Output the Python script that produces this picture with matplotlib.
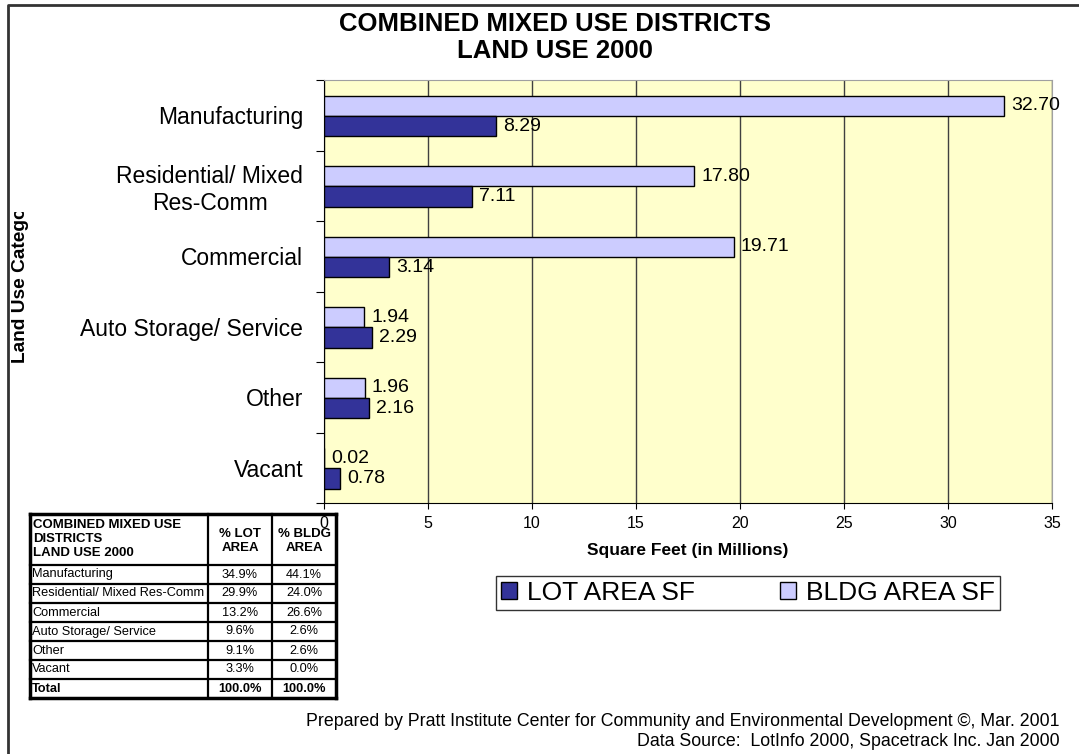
import matplotlib
matplotlib.use("Agg")
import matplotlib.pyplot as plt
import numpy as np
from matplotlib.patches import Patch
from matplotlib.transforms import Bbox, TransformedBbox

categories = ["Manufacturing", "Residential/ Mixed\nRes-Comm", "Commercial",
              "Auto Storage/ Service", "Other", "Vacant"]
lot_area = [8.29, 7.11, 3.14, 2.29, 2.16, 0.78]
bldg_area = [32.70, 17.80, 19.71, 1.94, 1.96, 0.02]

table_rows = ["Manufacturing", "Residential/ Mixed Res-Comm", "Commercial",
              "Auto Storage/ Service", "Other", "Vacant", "Total"]
pct_lot = ["34.9%", "29.9%", "13.2%", "9.6%", "9.1%", "3.3%", "100.0%"]
pct_bldg = ["44.1%", "24.0%", "26.6%", "2.6%", "2.6%", "0.0%", "100.0%"]

lot_col, bldg_col, plot_bg = "#333399", "#CCCCFF", "#FFFFCC"
plt.rcParams["font.family"] = ["Liberation Sans", "DejaVu Sans"]

W, H = 1079, 754
fig = plt.figure(figsize=(W / 100, H / 100), dpi=100)
ax = fig.add_axes([324 / W, 1 - 503 / H, 728 / W, 423 / H])
ax.set_facecolor(plot_bg)

y = np.arange(len(categories))
ax.barh(y - 0.135, bldg_area, height=0.29, color=bldg_col, edgecolor="black",
        linewidth=1, zorder=3)
ax.barh(y + 0.155, lot_area, height=0.29, color=lot_col, edgecolor="black",
        linewidth=1, zorder=3)
for i in range(len(categories)):
    ax.annotate(f"{bldg_area[i]:.2f}", (bldg_area[i], y[i] - 0.135),
                xytext=(5, 0), textcoords="offset points", va="center",
                fontsize=14, zorder=4)
    ax.annotate(f"{lot_area[i]:.2f}", (lot_area[i], y[i] + 0.155),
                xytext=(5, 0), textcoords="offset points", va="center",
                fontsize=14, zorder=4)

ax.set_xlim(0, 35)
ax.set_ylim(len(categories) - 0.5, -0.5)
ax.set_xticks(np.arange(0, 36, 5))
ax.tick_params(axis="x", direction="out", length=4, labelsize=11.5, pad=5)
ax.xaxis.grid(True, color="#404040", lw=1, zorder=1)
ax.set_axisbelow(True)
ax.set_yticks(np.arange(-0.5, len(categories), 1))
ax.set_yticklabels([])
ax.tick_params(axis="y", which="major", direction="out", length=6)
ax.set_yticks(y, minor=True)
ax.set_yticklabels(categories, minor=True, fontsize=16.5)
ax.tick_params(axis="y", which="minor", length=0, pad=15)
for lab in ax.get_yticklabels(minor=True):
    lab.set_multialignment("center")
for s in ("top", "right"):
    ax.spines[s].set_color("#a0a0a0")
ax.set_xlabel("Square Feet (in Millions)", fontsize=12.5, fontweight="bold",
              labelpad=9)

fig.text(555 / W, 1 - 12 / H, "COMBINED MIXED USE DISTRICTS\nLAND USE 2000",
         ha="center", va="top", fontsize=18.5, fontweight="bold",
         linespacing=1.15)

ylab = fig.text(21 / W, 1 - 363 / H, "Land Use Category", rotation=90,
                ha="center", va="bottom", fontsize=13.8, fontweight="bold")
ylab.set_clip_box(TransformedBbox(Bbox([[0, 1 - 372 / H], [1, 1 - 212 / H]]),
                                  fig.transFigure))
ylab.set_clip_on(True)

handles = [Patch(facecolor=lot_col, edgecolor="black"),
           Patch(facecolor=bldg_col, edgecolor="black")]
leg = fig.legend(handles, ["LOT AREA SF", "BLDG AREA SF"], ncol=2,
                 loc="center", bbox_to_anchor=(748 / W, 1 - 593 / H),
                 fontsize=19, frameon=True, fancybox=False, edgecolor="black",
                 handlelength=0.6, handleheight=0.6, handletextpad=0.4,
                 columnspacing=3.2, borderpad=0.2)
leg.get_frame().set_linewidth(1)

fig.text(1060 / W, 1 - 721 / H,
         "Prepared by Pratt Institute Center for Community and Environmental Development \u00a9, Mar. 2001",
         ha="right", va="center", fontsize=12.8)
fig.text(1060 / W, 1 - 741 / H,
         "Data Source:  LotInfo 2000, Spacetrack Inc. Jan 2000",
         ha="right", va="center", fontsize=12.8)

# overlay in pixel coordinates for frame and summary table
ov = fig.add_axes([0, 0, 1, 1], facecolor="none")
ov.set_xlim(0, W)
ov.set_ylim(H, 0)
ov.axis("off")
ov.plot([8, 8, W], [H, 5, 5], color="#333333", lw=2)

cols = [30, 208, 272, 336]
rows = [514, 565] + [565 + 19 * (k + 1) for k in range(len(table_rows))]
for yy in rows:
    ov.plot([cols[0], cols[-1]], [yy, yy], color="black",
            lw=2.5 if yy in (rows[0], rows[-1]) else 1.6)
for xx in cols:
    ov.plot([xx, xx], [rows[0], rows[-1]], color="black",
            lw=2.5 if xx in (cols[0], cols[-1]) else 1.6)
ov.text(33, 519, "COMBINED MIXED USE\nDISTRICTS\nLAND USE 2000", ha="left",
        va="top", fontsize=9.5, fontweight="bold", linespacing=1.2)
ov.text((cols[1] + cols[2]) / 2, 541, "% LOT\nAREA", ha="center", va="center",
        fontsize=9.5, fontweight="bold", linespacing=1.25)
ov.text((cols[2] + cols[3]) / 2, 541, "% BLDG\nAREA", ha="center", va="center",
        fontsize=9.5, fontweight="bold", linespacing=1.25)
for k, name in enumerate(table_rows):
    yc = (rows[k + 1] + rows[k + 2]) / 2
    w = "bold" if name == "Total" else "normal"
    ov.text(32, yc, name, ha="left", va="center", fontsize=9.2, fontweight=w)
    ov.text((cols[1] + cols[2]) / 2, yc, pct_lot[k], ha="center", va="center",
            fontsize=9.2, fontweight=w)
    ov.text((cols[2] + cols[3]) / 2, yc, pct_bldg[k], ha="center", va="center",
            fontsize=9.2, fontweight=w)

fig.savefig("out.png", dpi=100)
